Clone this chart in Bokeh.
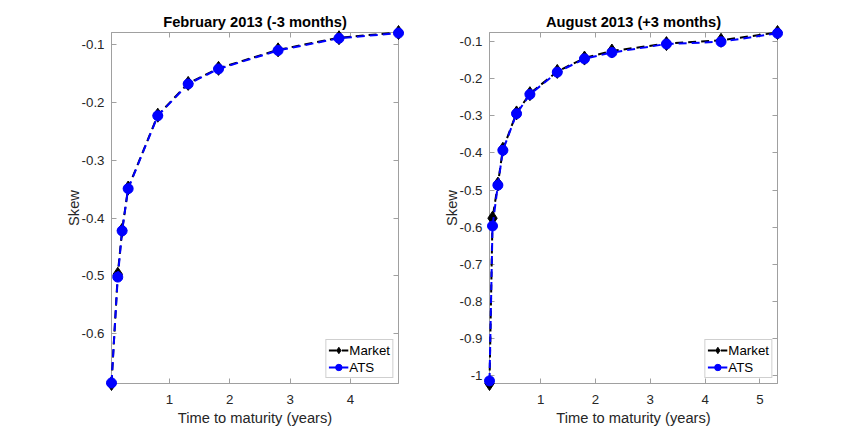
from bokeh.plotting import figure
from bokeh.layouts import row
from bokeh.models import Range1d, FixedTicker, LinearAxis, CustomJSTickFormatter
from bokeh.embed import file_html
from bokeh.resources import INLINE

# ---- data ----
feb_title = "February 2013 (-3 months)"
feb_t = [0.039, 0.143, 0.215, 0.315, 0.806, 1.31, 1.813, 2.80, 3.81, 4.796]
feb_market = [-0.686, -0.497, -0.421, -0.348, -0.222, -0.167, -0.141, -0.109, -0.088, -0.079]
feb_ats = [-0.685, -0.502, -0.422, -0.349, -0.223, -0.168, -0.142, -0.110, -0.089, -0.080]
feb_xticks = [1, 2, 3, 4]
feb_yticks = [-0.6, -0.5, -0.4, -0.3, -0.2, -0.1]

aug_title = "August 2013 (+3 months)"
aug_t = [0.068, 0.123, 0.221, 0.312, 0.561, 0.805, 1.304, 1.80, 2.30, 3.295, 4.29, 5.32]
aug_market = [-1.022, -0.576, -0.484, -0.390, -0.292, -0.240, -0.180, -0.144, -0.125, -0.105, -0.096, -0.075]
aug_ats = [-1.015, -0.597, -0.487, -0.393, -0.294, -0.242, -0.182, -0.146, -0.129, -0.106, -0.100, -0.077]
aug_xticks = [1, 2, 3, 4, 5]
aug_yticks = [-1.0, -0.9, -0.8, -0.7, -0.6, -0.5, -0.4, -0.3, -0.2, -0.1]

series_names = ["Market", "ATS"]
xlabel = "Time to maturity (years)"
ylabel = "Skew"

FONT = "Liberation Sans"
TXT = "#262626"
AX = "#a0a0a0"
TICK_FS = "13.3px"
LABEL_FS = "14.7px"


def make(title, t, mkt, ats, xticks, yticks, fw, fh, bl, br, bt, bb):
    ymin = min(min(mkt), min(ats))
    ymax = max(max(mkt), max(ats))
    p = figure(frame_width=fw, frame_height=fh,
               min_border_left=bl, min_border_right=br,
               min_border_top=bt, min_border_bottom=bb,
               x_range=Range1d(min(t), max(t)), y_range=Range1d(ymin, ymax),
               output_backend="svg", toolbar_location=None, title=title)
    p.grid.visible = False
    p.outline_line_color = AX
    p.outline_line_width = 1
    p.background_fill_color = "white"
    p.border_fill_color = "white"

    fmt = "return String(Math.round(tick*10)/10)"
    p.xaxis.ticker = FixedTicker(ticks=xticks)
    p.yaxis.ticker = FixedTicker(ticks=yticks)
    p.xaxis.formatter = CustomJSTickFormatter(code=fmt)
    p.yaxis.formatter = CustomJSTickFormatter(code=fmt)
    for ax in (p.xaxis, p.yaxis):
        ax.axis_line_color = AX
        ax.major_tick_line_color = AX
        ax.major_tick_in = 5
        ax.major_tick_out = 0
        ax.minor_tick_line_color = None
        ax.major_label_text_font = FONT
        ax.major_label_text_font_size = TICK_FS
        ax.major_label_text_color = TXT
        ax.axis_label_text_font = FONT
        ax.axis_label_text_font_size = LABEL_FS
        ax.axis_label_text_font_style = "normal"
        ax.axis_label_text_color = TXT
    p.xaxis.major_label_standoff = 11
    p.yaxis.major_label_standoff = 7
    p.xaxis.axis_label = xlabel
    p.yaxis.axis_label = ylabel
    p.xaxis.axis_label_standoff = 3
    p.yaxis.axis_label_standoff = -3

    # mirrored ticks on top and right (box on)
    for loc, tk in (("above", xticks), ("right", yticks)):
        a = LinearAxis(ticker=FixedTicker(ticks=tk),
                       formatter=CustomJSTickFormatter(code="return ''"),
                       axis_line_color=AX, major_tick_line_color=AX,
                       major_tick_in=5, major_tick_out=0,
                       minor_tick_line_color=None, major_label_standoff=0)
        p.add_layout(a, loc)

    p.title.text_font = FONT
    p.title.text_font_size = LABEL_FS
    p.title.text_font_style = "bold"
    p.title.text_color = "#000000"
    p.title.align = "center"
    p.title.standoff = 5

    kw = dict(line_width=2, line_dash="8 5", level="overlay")
    p.line(t, mkt, line_color="black", legend_label=series_names[0], **kw)
    p.scatter(t, mkt, marker="diamond", size=14, fill_color="black",
              line_color="black", legend_label=series_names[0], level="overlay")
    p.line(t, ats, line_color="#0000ff", legend_label=series_names[1], **kw)
    p.scatter(t, ats, marker="circle", size=10, fill_color="#0000ff",
              line_color="#0000ff", legend_label=series_names[1], level="overlay")

    lg = p.legend[0]
    lg.location = "bottom_right"
    lg.margin = 5
    lg.padding = 2
    lg.spacing = 1
    lg.label_standoff = 1
    lg.glyph_width = 20
    lg.glyph_height = 16
    lg.label_height = 16
    lg.label_text_font = FONT
    lg.label_text_font_size = TICK_FS
    lg.label_text_color = "#000000"
    lg.border_line_color = AX
    lg.background_fill_alpha = 1
    return p


p1 = make(feb_title, feb_t, feb_market, feb_ats, feb_xticks, feb_yticks,
          287, 351, 111, 31, 32, 39)
p2 = make(aug_title, aug_t, aug_market, aug_ats, aug_xticks, aug_yticks,
          288, 351, 60, 73, 32, 39)

layout = row(p1, p2)
open("out.html", "w").write(file_html(layout, INLINE))
